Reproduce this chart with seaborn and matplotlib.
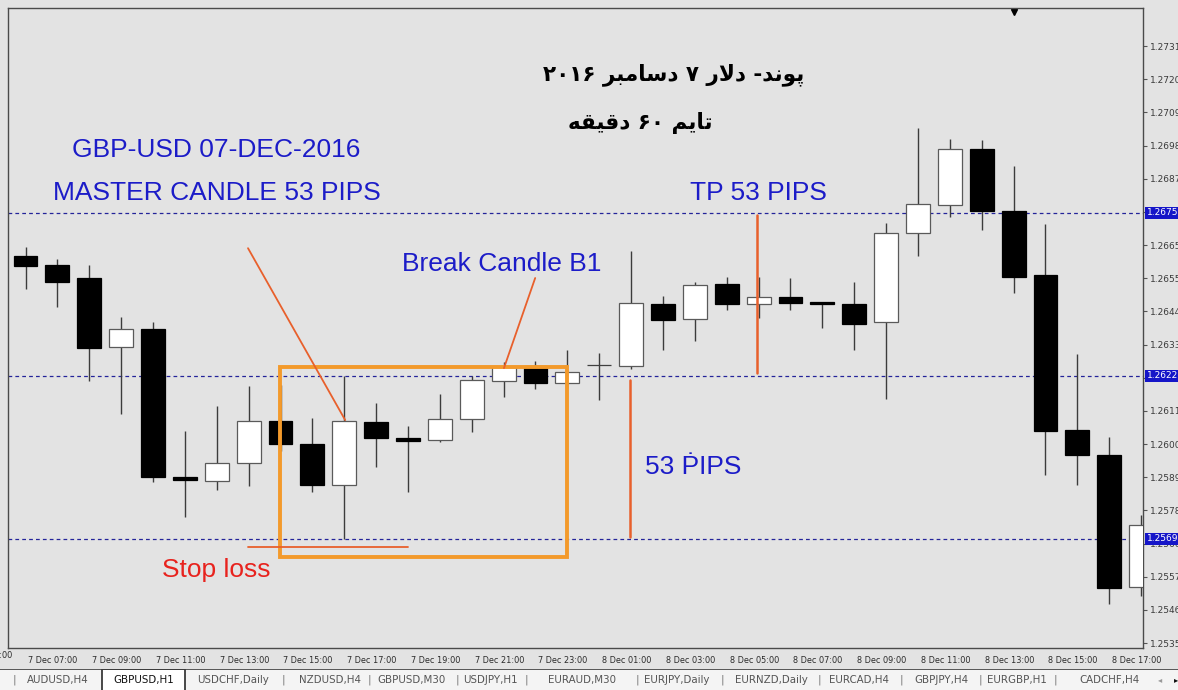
import numpy as np
import pandas as pd
import seaborn as sns
import matplotlib.pyplot as plt
import matplotlib.transforms as mtransforms
from matplotlib.patches import Rectangle

# GBPUSD H1 candles, 7 Dec 07:00 -> 8 Dec 18:00
opens = [1.26609, 1.26580, 1.26538, 1.26313, 1.26372, 1.25890, 1.25877, 1.25936, 1.26073,
         1.25998, 1.25864, 1.26069, 1.26017, 1.26011, 1.26079, 1.26203, 1.26251, 1.26196,
         1.26255, 1.26251, 1.26453, 1.26404, 1.26518, 1.26453, 1.26476, 1.26460, 1.26453,
         1.26395, 1.26684, 1.26775, 1.26957, 1.26756, 1.26547, 1.26043, 1.25962, 1.25533]
highs = [1.26638, 1.26599, 1.26580, 1.26411, 1.26395, 1.26040, 1.26121, 1.26186, 1.26190,
         1.26082, 1.26219, 1.26131, 1.26056, 1.26160, 1.26219, 1.26264, 1.26268, 1.26303,
         1.26294, 1.26625, 1.26479, 1.26525, 1.26541, 1.26541, 1.26538, 1.26460, 1.26525,
         1.26717, 1.27025, 1.26990, 1.26986, 1.26902, 1.26713, 1.26290, 1.26021, 1.25767]
lows = [1.26502, 1.26443, 1.26203, 1.26095, 1.25874, 1.25760, 1.25848, 1.25861, 1.25975,
        1.25842, 1.25689, 1.25923, 1.25842, 1.26004, 1.26037, 1.26151, 1.26177, 1.26180,
        1.26141, 1.26242, 1.26303, 1.26333, 1.26434, 1.26408, 1.26434, 1.26375, 1.26303,
        1.26144, 1.26609, 1.26736, 1.26694, 1.26489, 1.25897, 1.25864, 1.25477, 1.25504]
closes = [1.26577, 1.26525, 1.26310, 1.26372, 1.25890, 1.25881, 1.25936, 1.26073, 1.25998,
          1.25864, 1.26073, 1.26017, 1.26008, 1.26079, 1.26206, 1.26248, 1.26196, 1.26232,
          1.26255, 1.26456, 1.26401, 1.26515, 1.26453, 1.26476, 1.26456, 1.26453, 1.26388,
          1.26684, 1.26778, 1.26957, 1.26756, 1.26541, 1.26040, 1.25962, 1.25530, 1.25734]

time_labels = ["7 Dec 07:00", "7 Dec 09:00", "7 Dec 11:00", "7 Dec 13:00", "7 Dec 15:00",
               "7 Dec 17:00", "7 Dec 19:00", "7 Dec 21:00", "7 Dec 23:00", "8 Dec 01:00",
               "8 Dec 03:00", "8 Dec 05:00", "8 Dec 07:00", "8 Dec 09:00", "8 Dec 11:00",
               "8 Dec 13:00", "8 Dec 15:00", "8 Dec 17:00"]
price_labels = ["1.2535", "1.2546", "1.2557", "1.2566", "1.2578", "1.2589", "1.2600",
                "1.2611", "1.2622", "1.2633", "1.2644", "1.2655", "1.2665", "1.2675",
                "1.2687", "1.2698", "1.2709", "1.2720", "1.2731"]
levels = [1.2675, 1.2622, 1.2569]
level_labels = ["1.2675", "1.2622", "1.2569"]
tabs = ["AUDUSD,H4", "GBPUSD,H1", "USDCHF,Daily", "NZDUSD,H4", "GBPUSD,M30", "USDJPY,H1",
        "EURAUD,M30", "EURJPY,Daily", "EURNZD,Daily", "EURCAD,H4", "GBPJPY,H4",
        "EURGBP,H1", "CADCHF,H4"]

# persian title, shaped glyphs in visual order
title_1 = ("\u06F2\u06F0\u06F1\u06F6 \uFEAE\uFE92\uFEE3\uFE8E\uFEB3\uFEA9 \u06F7 "
           "\uFEAD\uFEFB\uFEA9 -\uFEAA\uFEE7\uFEEE\uFB58")
title_2 = "\uFEEA\uFED8\uFBFF\uFED7\uFEA9 \u06F6\u06F0 \uFEE2\uFBFE\uFE8E\uFE97"

BG = "#e3e3e3"
BLUE = "#1c1cc8"
LINE_RED = "#e8602c"
BOX_ORANGE = "#f39a2b"

df = pd.DataFrame({"open": opens, "high": highs, "low": lows, "close": closes})
df["bar"] = np.arange(len(df))
df["bottom"] = df[["open", "close"]].min(axis=1)
df["height"] = (df["close"] - df["open"]).abs()

sns.set_theme(style="white", context="paper")
plt.rcParams["font.family"] = ["DejaVu Sans"]

W, H = 1178, 690
fig = plt.figure(figsize=(W / 100, H / 100), dpi=100, facecolor=BG)
ax = fig.add_axes([8 / W, 1 - 648 / H, (1143 - 8) / W, (648 - 8) / H])
ax.set_facecolor(BG)

# candles
ax.vlines(df["bar"], df["low"], df["high"], color="#3c3c3c", lw=1, zorder=2)
face = np.where(df["close"] > df["open"], "white",
                np.where(df["close"] < df["open"], "black", "#404040"))
edge = np.where(df["close"] > df["open"], "#5a5a5a",
                np.where(df["close"] < df["open"], "black", "#404040"))
ax.bar(df["bar"], df["height"], bottom=df["bottom"], width=0.75,
       color=face, edgecolor=edge, linewidth=0.9, zorder=3)

# price levels
ymix = mtransforms.blended_transform_factory(ax.transAxes, ax.transData)
for lv, lab in zip(levels, level_labels):
    ax.axhline(lv, color="#24249a", lw=0.9, ls=(0, (3, 2.5)), zorder=1)
    ax.text(1 + 4 / 1135, lv, lab, transform=ymix,
            ha="left", va="center", color="white", fontsize=6.5, clip_on=False, zorder=6,
            bbox=dict(boxstyle="square,pad=0.2", fc="#1515c8", ec="none"))

# annotations
ax.add_patch(Rectangle((7.99, 1.25630), 9.0, 1.26248 - 1.25630, fill=False,
                       ec=BOX_ORANGE, lw=2.8, zorder=4))
ax.plot([6.98, 10.03], [1.26635, 1.26076], color=LINE_RED, lw=1.3, zorder=4)
ax.plot([15.99, 15.01], [1.26538, 1.26245], color=LINE_RED, lw=1.3, zorder=4)
ax.plot([22.95, 22.95], [1.26742, 1.26229], color=LINE_RED, lw=1.8, zorder=4)
ax.plot([18.97, 18.97], [1.26206, 1.25695], color=LINE_RED, lw=1.8, zorder=4)
ax.plot([6.98, 12.0], [1.25663, 1.25663], color=LINE_RED, lw=1.3, zorder=4)

en = ["Liberation Sans", "DejaVu Sans"]
ax.text(5.99, 1.26954, "GBP-USD 07-DEC-2016", color=BLUE, fontsize=19, family=en, ha="center", va="center")
ax.text(5.99, 1.26814, "MASTER CANDLE 53 PIPS", color=BLUE, fontsize=19, family=en, ha="center", va="center")
ax.text(22.98, 1.26814, "TP 53 PIPS", color=BLUE, fontsize=19, family=en, ha="center", va="center")
ax.text(14.95, 1.26583, "Break Candle B1", color=BLUE, fontsize=19, family=en, ha="center", va="center")
ax.text(20.96, 1.25923, "53 \u1E56IPS", color=BLUE, fontsize=19, family=en, ha="center", va="center")
ax.text(5.98, 1.25588, "Stop loss", color="#e8231e", fontsize=19, family=en, ha="center", va="center")
ax.text(20.35, 1.27198, title_1, color="black", fontsize=15.5, fontweight="bold",
        family=["DejaVu Sans"], ha="center", va="center")
ax.text(19.28, 1.27042, title_2, color="black", fontsize=15.5, fontweight="bold",
        family=["DejaVu Sans"], ha="center", va="center")

# shift marker at the top
ax.plot([31.0], [0.993], marker="v", color="black", ms=5,
        transform=mtransforms.blended_transform_factory(ax.transData, ax.transAxes), clip_on=False)

# axes
ax.set_xlim(-0.55, 35.06)
ax.set_ylim(1.25335, 1.27416)
ax.yaxis.tick_right()
ax.set_yticks(np.linspace(1.25351, 1.27292, len(price_labels)))
# the level boxes sit on top of these two tick labels
ax.set_yticklabels(["" if p in level_labels[:2] else p for p in price_labels])
ax.tick_params(axis="y", direction="out", length=3, width=0.8, colors="#555555",
               labelsize=6.5, labelcolor="#3a3a3a", pad=2)
ax.set_xticks(np.arange(0, 36, 2))
ax.set_xticklabels(time_labels, ha="left")
ax.tick_params(axis="x", direction="out", length=4, width=0.8, colors="#555555",
               labelsize=5.9, labelcolor="#2a2a2a", pad=1.5)
off = mtransforms.ScaledTranslation(2 / 72, 0, fig.dpi_scale_trans)
for lab in ax.get_xticklabels():
    lab.set_transform(lab.get_transform() + off)
ax.text(-1.96, -0.004, "7 Dec 05:00",
        transform=mtransforms.blended_transform_factory(ax.transData, ax.transAxes),
        fontsize=5.9, color="#2a2a2a", ha="left", va="top", clip_on=False)
for s in ax.spines.values():
    s.set_color("#4a4a4a")
    s.set_linewidth(1)

# terminal tab bar
tab_ax = fig.add_axes([0, 0, 1, 21 / H])
tab_ax.set_xlim(0, W)
tab_ax.set_ylim(0, 21)
tab_ax.axis("off")
tab_ax.add_patch(Rectangle((0, 0), W, 21, fc="#f4f4f4", ec="none"))
tab_ax.axhline(21, color="#3a3a3a", lw=1.2)
tab_ax.add_patch(Rectangle((102, -1), 83, 22, fc="white", ec="#2a2a2a", lw=1.2))
tab_x = [58, 144, 233, 330, 411, 490, 582, 677, 771, 859, 941, 1017, 1109]
sep_x = [14, 283, 369, 457, 526, 637, 722, 819, 901, 980, 1055]
for name, x in zip(tabs, tab_x):
    tab_ax.text(x, 10, name, ha="center", va="center", fontsize=7.4,
                color="#111111" if name == "GBPUSD,H1" else "#555555")
for x in sep_x:
    tab_ax.text(x, 10, "|", ha="center", va="center", fontsize=7.5, color="#777777")
tab_ax.text(1160, 10, "\u25C2", ha="center", va="center", fontsize=6, color="#999999")
tab_ax.text(1176, 10, "\u25B8", ha="center", va="center", fontsize=6, color="#111111")

fig.savefig("out.png", dpi=100, facecolor=BG)
plt.close(fig)
